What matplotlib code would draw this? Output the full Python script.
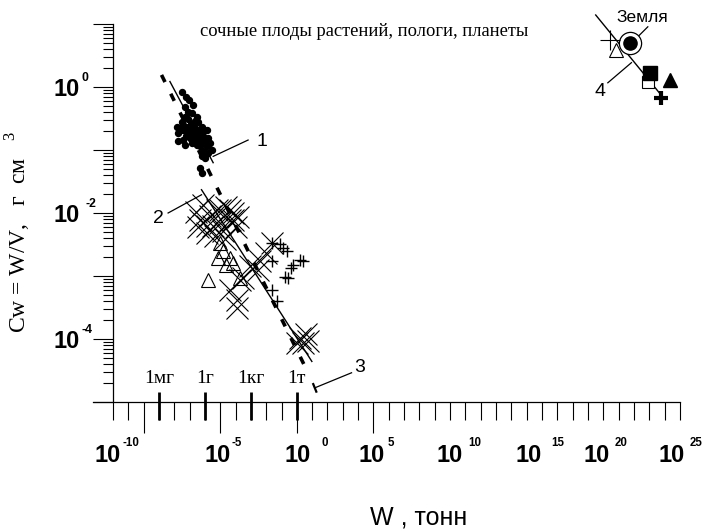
import numpy as np
import matplotlib
matplotlib.use('Agg')
import matplotlib.pyplot as plt
from matplotlib.ticker import FixedLocator, NullFormatter

plt.rcParams['mathtext.fontset'] = 'custom'
plt.rcParams['mathtext.rm'] = 'Liberation Serif'

# ---------------- data (log10 of W [tonnes] and Cw [g/cm3]) ----------------
fruit_logw = [-7.52, -7.24, -7.03, -6.76, -7.31, -7.09, -6.87, -7.31, -7.52, -6.54,
              -6.44, -7.85, -7.63, -7.42, -7.20, -6.98, -6.65, -6.76, -6.44, -6.22,
              -6.11, -7.74, -7.42, -7.20, -6.98, -6.65, -6.33, -6.11, -5.79, -5.68,
              -5.89, -6.33, -6.54, -6.11, -5.79, -5.56, -6.22, -6.00, -6.33, -6.22,
              -7.44, -7.11, -6.85, -6.52, -7.31, -6.00, -6.91, -7.76, -6.33, -6.65,
              -5.87, -7.11]
fruit_logc = [-0.07, -0.15, -0.20, -0.28, -0.31, -0.39, -0.41, -0.47, -0.55, -0.47,
              -0.55, -0.63, -0.65, -0.68, -0.63, -0.68, -0.65, -0.73, -0.70, -0.63,
              -0.70, -0.86, -0.84, -0.78, -0.81, -0.84, -0.84, -0.78, -0.81, -0.89,
              -0.94, -0.94, -0.92, -1.02, -1.05, -1.00, -1.10, -1.13, -1.29, -1.37,
              -0.60, -0.73, -0.88, -0.77, -0.92, -0.87, -0.58, -0.73, -0.73, -0.53,
              -0.68, -0.50]

cross_logw = [-6.33, -5.68, -5.89, -5.02, -5.24, -4.59, -4.16, -4.37, -4.81, -5.35,
              -5.89, -5.46, -5.02, -4.37, -4.16, -6.59, -6.46, -6.13, -3.85, -3.98,
              -4.70, -1.65, -1.98, -2.41, -2.52, -3.50, -4.37, -3.93, -3.93, -3.72,
              -3.07, 0.20, 0.39, 0.59, 0.00, 0.72]
cross_logc = [-2.11, -2.05, -2.21, -2.16, -1.95, -1.90, -2.00, -2.11, -2.29, -2.37,
              -2.32, -2.21, -1.95, -1.95, -2.11, -1.98, -2.23, -1.87, -2.07, -2.23,
              -2.42, -2.48, -2.63, -2.77, -2.90, -3.03, -3.22, -3.38, -3.51, -3.06,
              -2.84, -3.98, -4.06, -3.93, -4.07, -4.03]

tri_logw = [-5.02, -4.81, -5.13, -4.37, -4.16, -4.59, -5.79, -3.72]
tri_logc = [-2.48, -2.61, -2.71, -2.71, -2.79, -2.82, -3.06, -3.03]

plus_logw = [-1.65, -0.89, -0.67, 0.20, 0.39, -0.24, -0.35, -0.78, -0.57, -1.65,
             -1.65, -1.32, -1.11]
plus_logc = [-2.48, -2.56, -2.61, -2.74, -2.77, -2.82, -2.87, -3.01, -3.03, -2.77,
             -3.22, -3.40, -2.50]

# planets
earth_logw, earth_logc = 21.72, 0.698
pl_thinplus = (20.42, 0.751)
pl_opentri = (20.85, 0.592)
pl_fillsq = (23.03, 0.222)
pl_opensq = (22.92, 0.089)
pl_filltri = (24.33, 0.116)
pl_boldplus = (23.79, -0.175)

# fitted lines (log endpoints)
line1_logw = [-8.28, -5.46]; line1_logc = [0.09, -1.20]
line2_logw = [-6.22, 0.98];  line2_logc = [-1.63, -4.36]
line3_logw = [-8.83, 0.52];  line3_logc = [0.195, -4.435]
line4_logw = [19.5, 23.87];  line4_logc = [1.148, -0.155]

x_label_exps = [-10, -5, 0, 5, 10, 15, 20, 25]
y_label_exps = [0, -2, -4]
mass_units = ['1мг', '1г', '1кг', '1т']
mass_unit_exps = [-9, -6, -3, 0]

title_text = 'сочные плоды растений, пологи, планеты'

P = lambda a: 10.0 ** np.asarray(a, dtype=float)

# ---------------- figure ----------------
W, H = 704, 531
fig = plt.figure(figsize=(W / 100, H / 100), dpi=100)
ax = fig.add_axes([93 / W, 1 - 401.7 / H, 587 / W, 377.4 / H])
ax.set_xscale('log'); ax.set_yscale('log')
ax.set_xlim(10 ** -13.3, 1e25)
ax.set_ylim(1e-5, 1e1)
for s in ['top', 'right']:
    ax.spines[s].set_visible(False)
ax.spines['left'].set_position(('data', 1e-12))
ax.spines['left'].set_linewidth(0.9)
ax.spines['bottom'].set_linewidth(0.9)

# x ticks
ax.xaxis.set_major_locator(FixedLocator([1e-10, 1e-5, 1e0, 1e5]))
ax.xaxis.set_minor_locator(FixedLocator([10.0 ** e for e in range(-12, 26) if e not in (-10, -5, 0, 5)]))
ax.xaxis.set_major_formatter(NullFormatter()); ax.xaxis.set_minor_formatter(NullFormatter())
ax.tick_params(axis='x', which='major', direction='out', length=22.3, width=0.8)
ax.tick_params(axis='x', which='minor', direction='out', length=13, width=0.8)
# y ticks
ax.yaxis.set_major_locator(FixedLocator([10.0 ** e for e in range(-5, 2)]))
ax.yaxis.set_minor_locator(FixedLocator([m * 10.0 ** e for e in range(-5, 1) for m in range(2, 10)]))
ax.yaxis.set_major_formatter(NullFormatter()); ax.yaxis.set_minor_formatter(NullFormatter())
ax.tick_params(axis='y', which='major', direction='out', length=14.4, width=0.8)
ax.tick_params(axis='y', which='minor', direction='out', length=7.2, width=0.8)

# bold mass-unit ticks
ax.vlines(P(mass_unit_exps), -18 / 377.4, 10 / 377.4, transform=ax.get_xaxis_transform(),
          colors='black', lw=2.0, clip_on=False)
for lab, e in zip(mass_units, mass_unit_exps):
    ax.annotate(lab, xy=(10.0 ** e, 0), xycoords=('data', 'axes fraction'),
                xytext=(0, 18.5), textcoords='offset pixels', ha='center', va='baseline',
                fontsize=14, family='Liberation Serif')

# x tick labels
ten_dx = [-48.7, -15.3, -12, -15.4, -13.3, -11.7, -20.3, -22]
sup_dx = [-20.7, 11.4, 24.7, 14.3, 18, 25, 11.7, 10]
for e, tdx, sdx in zip(x_label_exps, ten_dx, sup_dx):
    ax.annotate('10', xy=(10.0 ** e, 0), xycoords=('data', 'axes fraction'),
                xytext=(tdx, -60.3), textcoords='offset pixels', ha='left', va='baseline',
                fontsize=17, fontweight='bold', family='Liberation Sans', annotation_clip=False)
    ax.annotate(str(e), xy=(10.0 ** e, 0), xycoords=('data', 'axes fraction'),
                xytext=(sdx, -44.0), textcoords='offset pixels', ha='left', va='baseline',
                fontsize=8.3, fontweight='bold', family='Liberation Sans', annotation_clip=False)

# y tick labels
ysup_x = [81.7, 86.0, 81.7]
for e, sx in zip(y_label_exps, ysup_x):
    ax.annotate('10', xy=(0, 10.0 ** e), xycoords=('axes fraction', 'data'),
                xytext=(80 - 93, -9), textcoords='offset pixels', ha='right', va='baseline',
                fontsize=17, fontweight='bold', family='Liberation Sans', annotation_clip=False)
    ax.annotate(str(e), xy=(0, 10.0 ** e), xycoords=('axes fraction', 'data'),
                xytext=(sx - 93, 6.0), textcoords='offset pixels', ha='left', va='baseline',
                fontsize=8.8, fontweight='bold', family='Liberation Sans', annotation_clip=False)

# lines
ax.plot(P(line1_logw), P(line1_logc), color='black', lw=1.0, zorder=3)
ax.plot(P(line2_logw), P(line2_logc), color='black', lw=1.0, zorder=3)
ax.plot(P(line3_logw), P(line3_logc), color='black', lw=2.6, dashes=(2.2, 3.6),
        dash_capstyle='butt', zorder=3)
ax.plot(P(line4_logw), P(line4_logc), color='black', lw=1.0, zorder=3, clip_on=False)

# scatter groups
ax.plot(P(fruit_logw), P(fruit_logc), 'o', ms=4.3, color='black', ls='none', zorder=4)
ax.plot(P(cross_logw), P(cross_logc), 'x', ms=16, mew=0.8, color='black', ls='none', zorder=4)
ax.plot(P(tri_logw), P(tri_logc), '^', ms=10.5, mfc='none', mec='black', mew=0.8, ls='none', zorder=4)
ax.plot(P(plus_logw), P(plus_logc), '+', ms=9, mew=1.0, color='black', ls='none', zorder=4)

# planets
ax.plot(P(earth_logw), P(earth_logc), 'o', ms=16, mfc='white', mec='black', mew=0.9, zorder=4)
ax.plot(P(earth_logw), P(earth_logc), 'o', ms=9.5, color='black', zorder=5)
ax.plot(P(pl_thinplus[0]), P(pl_thinplus[1]), '+', ms=14, mew=0.8, color='black', zorder=4)
ax.plot(P(pl_opentri[0]), P(pl_opentri[1]), '^', ms=10, mfc='none', mec='black', mew=0.8, zorder=4)
ax.plot(P(pl_opensq[0]), P(pl_opensq[1]), 's', ms=9, mfc='white', mec='black', mew=0.8, zorder=4)
ax.plot(P(pl_fillsq[0]), P(pl_fillsq[1]), 's', ms=9.5, color='black', zorder=5)
ax.plot(P(pl_filltri[0]), P(pl_filltri[1]), '^', ms=10, color='black', zorder=4)
ax.plot(P(pl_boldplus[0]), P(pl_boldplus[1]), '+', ms=10, mew=3, color='black', zorder=4)

# leader lines + numbers
lead = dict(color='black', lw=0.9, clip_on=False)
ax.plot(P([-5.46, -3.18]), P([-1.10, -0.84]), **lead)
ax.plot(P([-8.40, -6.22]), P([-2.00, -1.71]), **lead)
ax.plot(P([1.17, 3.57]), P([-4.78, -4.54]), **lead)
ax.plot(P([1.07, 1.27]), P([-4.72, -4.84]), color='black', lw=1.6)
ax.plot(P([20.29, 21.83]), P([0.07, 0.39]), **lead)
ax.plot(P([22.24, 22.90]), P([0.80, 0.96]), **lead)
num = dict(ha='center', va='center', fontsize=14, family='Liberation Sans')
ax.text(P(-2.30), P(-0.86), '1', **num)
ax.text(P(-9.05), P(-2.08), '2', **num)
ax.text(P(4.11), P(-4.46), '3', **num)
ax.text(P(19.77), P(-0.07), '4', **num)
ax.text(P(22.57), P(1.116), 'Земля', ha='center', va='center', fontsize=12.5,
        family='Liberation Sans')

# title and axis labels
fig.text(364 / W, 1 - 32 / H, title_text, ha='center', va='center', fontsize=13.3,
         family='Liberation Serif')
fig.text(419 / W, 1 - 517 / H, 'W , тонн', ha='center', va='center', fontsize=18,
         family='Liberation Sans')
fig.text(18 / W, 1 - 232 / H, 'Cw = W/V,   г  см   $^{3}$', ha='center', va='center',
         rotation=90, fontsize=17, family='Liberation Serif')

fig.savefig('out.png', dpi=100)
